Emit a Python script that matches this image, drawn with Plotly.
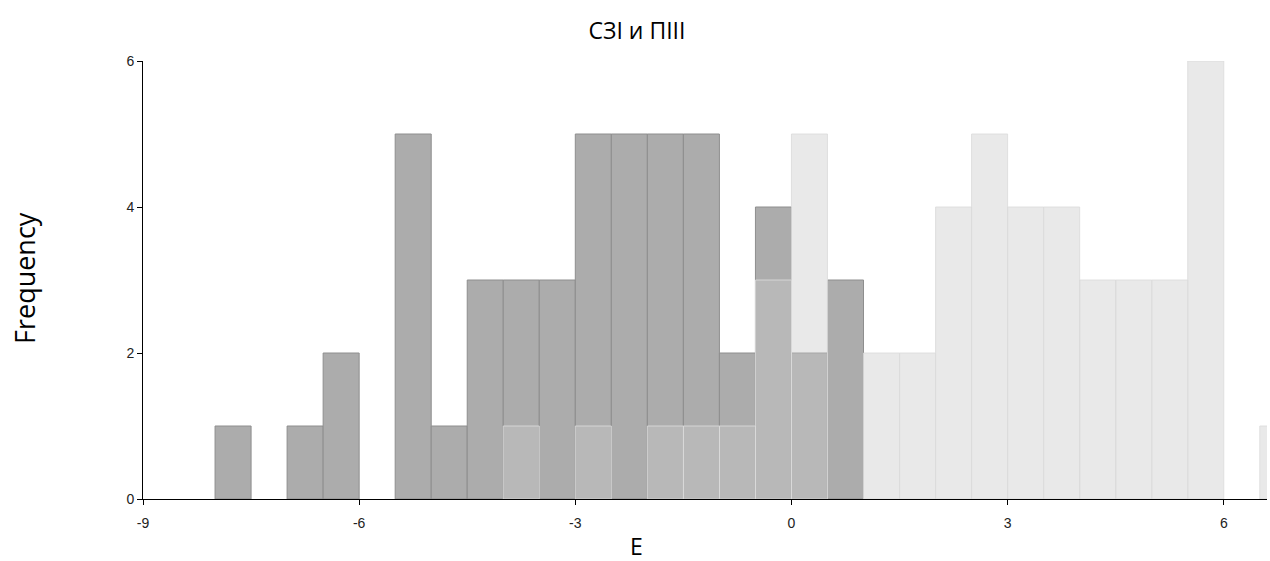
import plotly.graph_objects as go

# Bin centers (bin width 0.5) and counts
bin_centers_a = [-7.75, -6.75, -6.25, -5.25, -4.75, -4.25, -3.75, -3.25, -2.75, -2.25,
                 -1.75, -1.25, -0.75, -0.25, 0.25, 0.75]
counts_a = [1, 1, 2, 5, 1, 3, 3, 3, 5, 5, 5, 5, 2, 4, 2, 3]

bin_centers_b = [-3.75, -2.75, -1.75, -1.25, -0.75, -0.25, 0.25, 1.25, 1.75, 2.25,
                 2.75, 3.25, 3.75, 4.25, 4.75, 5.25, 5.75, 6.75]
counts_b = [1, 1, 1, 1, 1, 3, 5, 2, 2, 4, 5, 4, 4, 3, 3, 3, 6, 1]

bin_width = 0.5
x_ticks = [-9, -6, -3, 0, 3, 6]
y_ticks = [0, 2, 4, 6]

W, H = 1270, 561
ML, MR, MT, MB = 143, 3, 61, 62
plot_w = W - ML - MR
plot_h = H - MT - MB

def px_to_paper_x(px):
    return (px - ML) / plot_w

def px_to_paper_y(py):
    return (MT + plot_h - py) / plot_h

tick_font = dict(family="Liberation Sans Narrow, Liberation Sans", size=14, color="#222222")

fig = go.Figure()
fig.add_trace(go.Bar(
    x=bin_centers_a, y=counts_a, width=[bin_width] * len(counts_a),
    marker=dict(color="#acacac", line=dict(color="#8e8e8e", width=1)),
    name="СЗІ", showlegend=False,
))
fig.add_trace(go.Bar(
    x=bin_centers_b, y=counts_b, width=[bin_width] * len(counts_b),
    marker=dict(color="rgba(201,201,201,0.41)", line=dict(color="rgba(220,220,220,0.85)", width=1)),
    name="ПІІІ", showlegend=False,
))

fig.update_layout(
    width=W, height=H,
    barmode="overlay",
    plot_bgcolor="white", paper_bgcolor="white",
    margin=dict(l=ML, r=MR, t=MT, b=MB),
    title=dict(text="СЗІ и ПІІІ", x=637 / W, xanchor="center",
               y=1 - 31 / H, yanchor="middle", xref="container", yref="container",
               font=dict(family="Open Sans", size=23, color="#000000")),
    xaxis=dict(
        range=[-9, 6.6], tickmode="array", tickvals=x_ticks,
        ticktext=[str(v) for v in x_ticks],
        showgrid=False, zeroline=False, showline=True, linecolor="#000000", linewidth=1,
        ticks="outside", ticklen=5, tickcolor="#000000", ticklabelstandoff=6,
        tickfont=tick_font,
    ),
    yaxis=dict(
        range=[0, 6], tickmode="array", tickvals=y_ticks,
        showgrid=False, zeroline=False, showline=True, linecolor="#000000", linewidth=1,
        ticks="outside", ticklen=5, tickcolor="#000000",
        tickfont=tick_font,
    ),
    annotations=[
        dict(text="Frequency", x=px_to_paper_x(24), y=px_to_paper_y(278),
             xref="paper", yref="paper", showarrow=False, xanchor="center", yanchor="middle",
             textangle=-90, font=dict(family="Open Sans", size=27, color="#000000")),
        dict(text="E", x=px_to_paper_x(636), y=px_to_paper_y(546),
             xref="paper", yref="paper", showarrow=False, xanchor="center", yanchor="middle",
             font=dict(family="Open Sans", size=23, color="#000000")),
    ],
)

fig.write_html("out.html", config={"displayModeBar": False},
               post_script="document.body.style.margin='0';")
